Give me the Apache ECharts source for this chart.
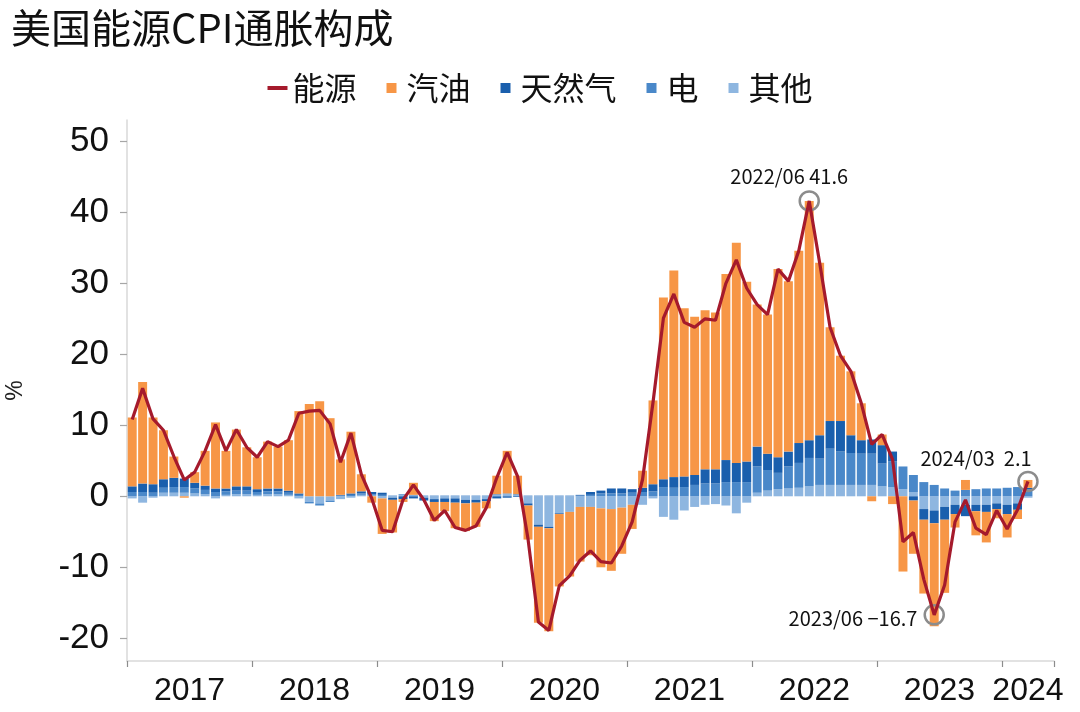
<!DOCTYPE html>
<html><head><meta charset="utf-8">
<script src="https://cdn.jsdelivr.net/npm/echarts@6/dist/echarts.min.js"></script>
<style>html,body{margin:0;padding:0;background:#fff}#c{width:1080px;height:712px}</style>
</head><body><div id="c"></div>
<script>
const months = [
'2017/01','2017/02','2017/03','2017/04','2017/05','2017/06','2017/07','2017/08','2017/09','2017/10','2017/11','2017/12',
'2018/01','2018/02','2018/03','2018/04','2018/05','2018/06','2018/07','2018/08','2018/09','2018/10','2018/11','2018/12',
'2019/01','2019/02','2019/03','2019/04','2019/05','2019/06','2019/07','2019/08','2019/09','2019/10','2019/11','2019/12',
'2020/01','2020/02','2020/03','2020/04','2020/05','2020/06','2020/07','2020/08','2020/09','2020/10','2020/11','2020/12',
'2021/01','2021/02','2021/03','2021/04','2021/05','2021/06','2021/07','2021/08','2021/09','2021/10','2021/11','2021/12',
'2022/01','2022/02','2022/03','2022/04','2022/05','2022/06','2022/07','2022/08','2022/09','2022/10','2022/11','2022/12',
'2023/01','2023/02','2023/03','2023/04','2023/05','2023/06','2023/07','2023/08','2023/09','2023/10','2023/11','2023/12',
'2024/01','2024/02','2024/03','2024/04','2024/05'];

const energy = [
10.8,15.2,10.9,9.3,5.6,2.3,3.4,6.4,10.1,6.4,9.4,6.9,
5.5,7.7,7.0,7.9,11.7,12.0,12.1,10.2,4.8,8.9,3.1,-0.3,
-4.8,-5.0,-0.5,1.6,-0.5,-3.4,-2.0,-4.4,-4.8,-4.2,-1.6,2.6,
6.2,2.8,-6.0,-17.7,-18.9,-12.6,-11.2,-9.0,-7.7,-9.2,-9.4,-7.0,
-3.6,2.4,13.2,25.1,28.5,24.5,23.8,25.0,24.8,30.0,33.3,29.3,
27.0,25.6,32.0,30.3,34.6,41.6,32.9,23.8,19.8,17.6,13.1,7.3,
8.7,5.2,-6.4,-5.1,-11.7,-16.7,-12.5,-3.6,-0.5,-4.5,-5.4,-2.0,
-4.6,-1.9,2.1];

const gasoline = [
9.7,14.3,9.4,6.9,3.0,-0.2,1.5,4.9,9.3,5.3,8.0,5.5,
4.5,6.6,5.9,7.1,11.6,13.0,13.4,11.0,5.0,8.7,2.4,-0.9,
-5.0,-4.6,-0.4,1.7,0.0,-2.7,-1.3,-3.6,-3.9,-3.4,-1.0,2.6,
6.0,2.6,-4.8,-13.5,-14.5,-10.2,-9.1,-7.7,-6.8,-8.3,-8.7,-6.5,
-3.4,2.4,11.8,25.6,29.1,23.7,22.3,22.4,22.1,26.2,31.0,25.3,
20.0,19.6,26.5,24.0,27.1,33.7,24.3,13.2,9.2,9.0,5.2,-0.7,
1.5,-1.1,-10.6,-7.5,-10.4,-14.5,-10.3,-1.9,1.4,-3.4,-4.3,-1.3,
-3.3,-1.3,1.1];

const natgas = [
0.8,1.2,1.2,1.2,1.3,1.2,0.8,0.6,0.5,0.4,0.6,0.6,
0.4,0.4,0.4,0.3,0.2,0.0,0.0,0.0,0.1,0.2,0.3,0.3,
0.3,-0.3,-0.4,-0.3,-0.4,-0.4,-0.5,-0.6,-0.5,-0.4,-0.3,-0.3,
-0.2,-0.1,-0.3,-0.3,-0.2,-0.1,0.0,0.1,0.4,0.4,0.7,0.7,
0.5,0.6,1.0,1.1,1.5,1.5,1.4,2.0,2.0,3.1,2.7,2.9,
2.8,2.3,2.2,2.1,2.8,2.5,3.3,3.9,4.3,2.5,1.9,2.0,
2.6,1.4,0.0,-0.6,-1.5,-1.8,-1.8,-1.3,-1.6,-0.9,-1.0,-0.8,
-1.3,-0.9,0.2];

const electricity = [
0.6,0.6,0.5,0.7,0.8,0.8,0.7,0.6,0.6,0.5,0.5,0.5,
0.4,0.4,0.4,0.3,0.2,-0.2,-0.3,-0.2,0.1,0.2,0.2,0.2,
0.2,0.1,0.1,0.1,0.1,0.1,0.1,0.1,0.1,0.1,0.1,0.1,
0.1,0.1,0.1,0.1,0.1,0.1,0.1,0.1,0.2,0.4,0.4,0.4,
0.5,0.6,0.7,1.3,1.2,1.3,1.6,1.8,1.8,2.0,2.0,2.0,
3.7,2.9,2.3,3.1,3.5,4.0,3.7,5.1,4.7,4.5,4.4,4.4,
3.2,3.6,3.2,2.4,2.0,1.6,1.1,0.8,0.9,1.0,1.1,1.1,
1.2,1.3,1.0];

const other = [
-0.3,-0.9,-0.2,0.5,0.5,0.5,0.4,0.3,-0.3,0.2,0.3,0.3,
0.2,0.3,0.3,0.2,-0.3,-0.8,-1.0,-0.6,-0.4,-0.2,0.2,0.1,
-0.3,-0.2,0.2,0.1,-0.2,-0.4,-0.3,-0.3,-0.5,-0.5,-0.4,0.2,
0.3,0.2,-1.0,-4.0,-4.3,-2.4,-2.2,-1.5,-1.5,-1.7,-1.8,-1.6,
-1.2,-1.2,-0.3,-2.9,-3.3,-2.0,-1.5,-1.2,-1.1,-1.3,-2.4,-0.9,
0.5,0.8,1.0,1.1,1.2,1.4,1.6,1.6,1.6,1.6,1.6,1.6,
1.4,1.3,1.0,0.6,-1.8,-2.0,-1.5,-1.2,-1.2,-1.2,-1.2,-1.0,
-1.2,-1.0,-0.2];

const yearLabels = ['2017','2018','2019','2020','2021','2022','2023','2024'];
const yTicks = [-20,-10,0,10,20,30,40,50];

const colors = {energy:'#A51A2C', gasoline:'#F79646', natgas:'#1A5FAD', electricity:'#4A88C9', other:'#8EB6E0'};

// year label positions: centre of each year's span on the month axis
const yearCenters = yearLabels.map((y, k) => (k*12 + Math.min(k*12+12, months.length)) / 2);

// annotated points: the peak, the trough after the peak, and the latest month
const iMax = energy.indexOf(Math.max(...energy));
const after = energy.slice(iMax);
const iMin = iMax + after.indexOf(Math.min(...after));
const iLast = energy.length - 1;
const fmt = v => v.toFixed(1).replace('-', '\u2212');

const cjk = 'Noto Sans CJK SC';
const linePath = 'path://M0,0h20v4h-20z';
const sqPath = 'path://M0,0h10v10h-10z';

const chart = echarts.init(document.getElementById('c'), null, {renderer:'canvas'});
chart.setOption({
  animation: false,
  backgroundColor: '#fff',
  title: {
    text: '美国能源CPI通胀构成', left: 6, top: 3,
    textStyle: {fontFamily: cjk, fontSize: 40, fontWeight: 'normal', color: '#111'}
  },
  legend: {
    top: 67, left: 'center', itemWidth: 20, itemHeight: 10, itemGap: 30,
    textStyle: {fontFamily: cjk, fontSize: 32, color: '#111'},
    data: [
      {name:'能源', icon: linePath},
      {name:'汽油', icon: sqPath},
      {name:'天然气', icon: sqPath},
      {name:'电', icon: sqPath},
      {name:'其他', icon: sqPath}
    ]
  },
  grid: {left: 127, right: 26, top: 120, bottom: 51, containLabel: false, outerBoundsMode: 'none'},
  xAxis: [
    {
      type: 'category', data: months, boundaryGap: true,
      axisLine: {onZero: false, lineStyle: {color: '#d9d9d9', width: 1.5}},
      axisTick: {show: true, interval: (i) => i % 12 === 0, length: 6, lineStyle: {color: '#8c8c8c', width: 1.2}},
      axisLabel: {show: false},
      splitLine: {show: false}
    },
    {
      type: 'value', position: 'bottom', min: 0, max: months.length,
      axisLine: {show: false, onZero: false}, axisTick: {show: false}, splitLine: {show: false},
      axisLabel: {
        customValues: yearCenters, margin: 14,
        fontFamily: 'Liberation Sans', fontSize: 32, color: '#111',
        formatter: (v) => { const k = yearCenters.indexOf(v); return k >= 0 ? yearLabels[k] : ''; }
      }
    }
  ],
  yAxis: {
    type: 'value', min: -23.2, max: 53,
    name: '%', nameLocation: 'middle', nameRotate: 90, nameGap: 100,
    nameTextStyle: {fontFamily: 'Liberation Sans', fontSize: 23, color: '#222'},
    axisLine: {show: true, lineStyle: {color: '#d9d9d9', width: 1.5}},
    axisTick: {show: true, customValues: yTicks, length: 7, lineStyle: {color: '#a6a6a6', width: 1.2}},
    axisLabel: {customValues: yTicks, margin: 18, fontFamily: 'Liberation Sans', fontSize: 35, color: '#111'},
    splitLine: {show: false}
  },
  series: [
    {name:'其他', type:'bar', stack:'e', data: other, barCategoryGap:'14%', itemStyle:{color: colors.other}},
    {name:'电', type:'bar', stack:'e', data: electricity, barCategoryGap:'14%', itemStyle:{color: colors.electricity}},
    {name:'天然气', type:'bar', stack:'e', data: natgas, barCategoryGap:'14%', itemStyle:{color: colors.natgas}},
    {name:'汽油', type:'bar', stack:'e', data: gasoline, barCategoryGap:'14%', itemStyle:{color: colors.gasoline}},
    {
      name:'能源', type:'line', data: energy, symbol:'none', showSymbol:false, z: 5,
      lineStyle: {color: colors.energy, width: 3.2}, itemStyle: {color: colors.energy},
      markPoint: {
        symbol: 'circle', symbolSize: 19, silent: true,
        itemStyle: {color: 'rgba(0,0,0,0)', borderColor: '#8c8c8c', borderWidth: 2.5},
        label: {show: true, fontFamily: cjk, fontSize: 20, color: '#111'},
        data: [
          {coord: [months[iMax], energy[iMax]], value: energy[iMax],
           label: {position: 'top', distance: 4, offset: [-20, 0], formatter: months[iMax] + ' ' + fmt(energy[iMax])}},
          {coord: [months[iMin], energy[iMin]], value: energy[iMin],
           label: {position: 'left', distance: 6, offset: [0, 4], formatter: months[iMin] + ' ' + fmt(energy[iMin])}},
          {coord: [months[iLast], energy[iLast]], value: energy[iLast],
           label: {position: 'top', distance: 2, offset: [-52, 0], formatter: months[iLast] + '  ' + fmt(energy[iLast])}}
        ]
      }
    }
  ]
});
</script></body></html>
